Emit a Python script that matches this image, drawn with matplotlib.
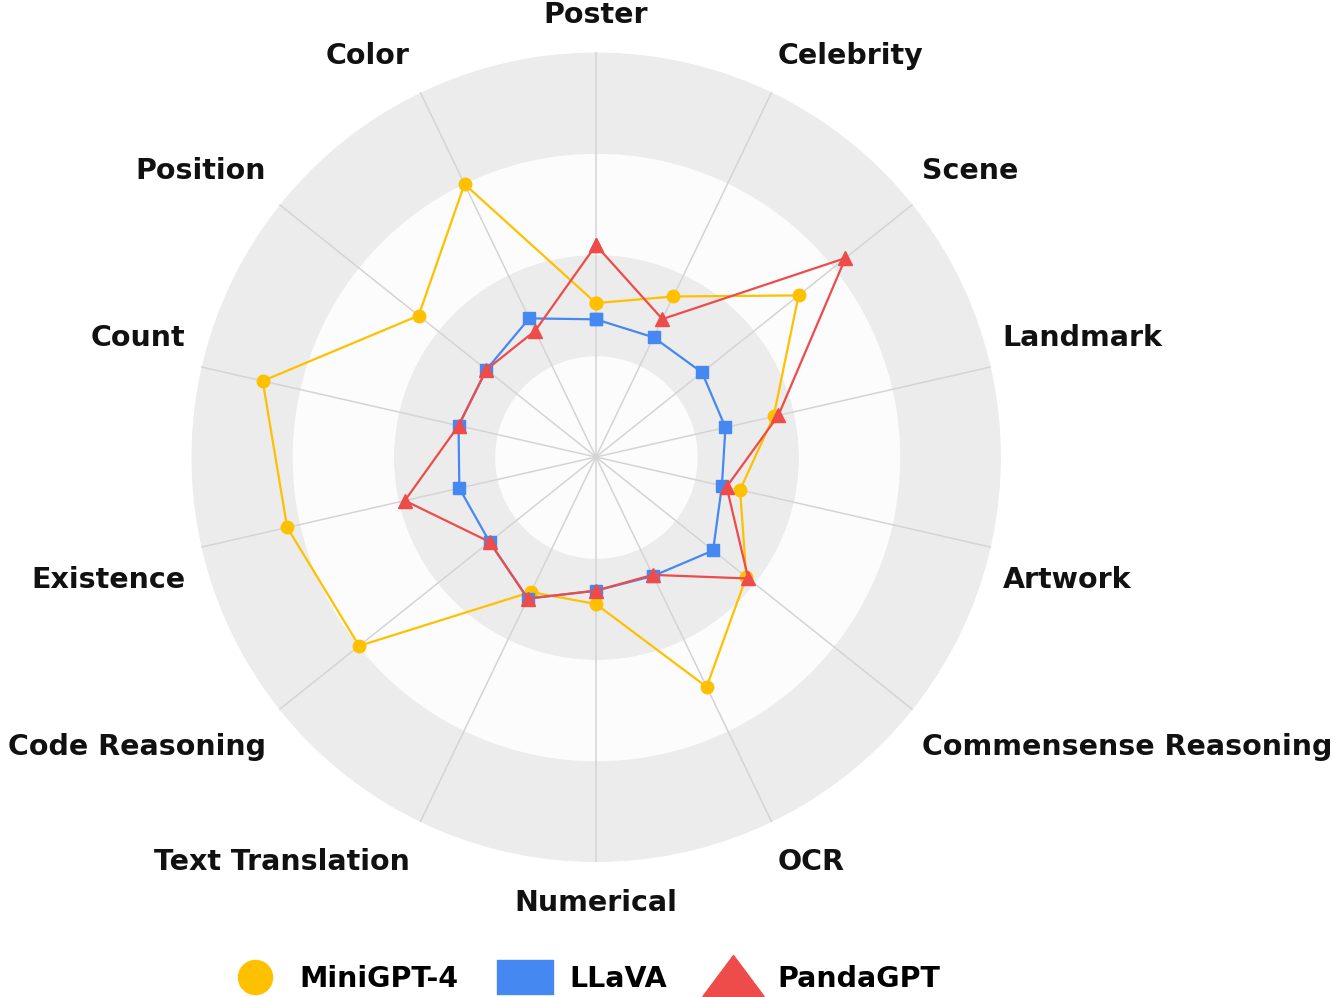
"""Radar chart comparing MiniGPT-4, LLaVA and PandaGPT across MME subtasks."""

import numpy as np
import matplotlib

matplotlib.use("Agg")
import matplotlib.pyplot as plt
import matplotlib.transforms as mtransforms
from matplotlib.lines import Line2D
from matplotlib.path import Path

categories = [
    "Poster", "Celebrity", "Scene", "Landmark", "Artwork",
    "Commensense Reasoning", "OCR", "Numerical", "Text Translation",
    "Code Reasoning", "Existence", "Count", "Position", "Color",
]
minigpt4 = [38, 44, 64, 45, 36.5, 47.5, 63, 36.3, 37, 74.8, 78.2, 84.4, 56, 74.8]
llava = [34, 32.8, 33.5, 32.8, 31.9, 37, 32.6, 33, 38.8, 33.6, 34.6, 34.8, 34.6, 38]
pandagpt = [52.3, 37.8, 78.8, 46.2, 33.1, 48.1, 32.3, 33, 38.8, 33.6, 48.4, 34.8, 34.6, 34.6]

# wide legend icons, like the original chart library draws them
RECT_ICON = Path([(-1, -0.58), (1, -0.58), (1, 0.58), (-1, 0.58), (-1, -0.58)],
                 [Path.MOVETO, Path.LINETO, Path.LINETO, Path.LINETO, Path.CLOSEPOLY])
TRI_ICON = Path([(-1, -0.62), (1, -0.62), (0, 0.72), (-1, -0.62)],
                [Path.MOVETO, Path.LINETO, Path.LINETO, Path.CLOSEPOLY])

series = [
    # name, values, colour, marker, marker size, legend icon, legend size
    ("MiniGPT-4", minigpt4, "#FFC000", "o", 9, "o", 24.5),
    ("LLaVA", llava, "#4688F1", "s", 8.5, RECT_ICON, 41),
    ("PandaGPT", pandagpt, "#EE4B4B", "^", 10, TRI_ICON, 44),
]

R_MAX = 100
BAND_EDGES = [0, 25, 50, 75, 100]
BAND_COLORS = ["#fcfcfc", "#ececec", "#fcfcfc", "#ececec"]
FONT_SIZE = 20.5

plt.rcParams["font.family"] = "DejaVu Sans"

fig = plt.figure(figsize=(13.38, 9.97), dpi=100)
ax = fig.add_axes([0.1427, 0.1354, 0.6054, 0.8124], projection="polar")
ax.set_theta_offset(np.pi / 2)
ax.set_theta_direction(-1)
ax.set_ylim(0, R_MAX)
ax.set_xticks([])
ax.set_yticks([])
ax.grid(False)
ax.spines["polar"].set_visible(False)
ax.set_facecolor("none")

# background bands
ring = np.linspace(0, 2 * np.pi, 721)
for lo, hi, col in zip(BAND_EDGES[:-1], BAND_EDGES[1:], BAND_COLORS):
    ax.fill_between(ring, lo, hi, color=col, linewidth=0, zorder=0)

n = len(categories)
angles = np.arange(n) * 2 * np.pi / n

# spokes
for a in angles:
    ax.plot([a, a], [0, R_MAX], color="#d4d4d4", linewidth=1.1, zorder=1)

# series
closed = np.append(angles, angles[0])
for name, vals, col, mk, ms, _, _ in series:
    v = np.append(vals, vals[0])
    ax.plot(closed, v, color=col, linewidth=1.6, marker=mk, markersize=ms,
            markeredgecolor=col, zorder=3, clip_on=False)

# category labels
label_r = R_MAX * 415 / 405
labels = []
for a, name in zip(angles, categories):
    sx = np.sin(a)   # screen x direction
    cy = np.cos(a)   # screen y direction (up)
    ha = "center" if abs(sx) < 0.01 else ("left" if sx > 0 else "right")
    va = "bottom" if cy > 0 else "top"
    dy = 13 if cy > 0 else -17
    dx = 0 if ha == "center" else (-6 if ha == "right" else 2)
    tr = mtransforms.offset_copy(ax.transData, fig=fig, x=dx, y=dy, units="dots")
    labels.append(ax.text(a, label_r, name, transform=tr, ha=ha, va=va,
                          fontsize=FONT_SIZE, fontweight="bold", color="#111111",
                          clip_on=False))

# keep labels inside the canvas
fig.canvas.draw()
renderer = fig.canvas.get_renderer()
fig_w = fig.bbox.width
for t in labels:
    bb = t.get_window_extent(renderer)
    shift = 0
    if bb.x1 > fig_w - 4:
        shift = (fig_w - 4) - bb.x1
    elif bb.x0 < 2:
        shift = 2 - bb.x0
    if shift:
        t.set_transform(t.get_transform() + mtransforms.Affine2D().translate(shift, 0))

handles = [
    Line2D([], [], linestyle="none", marker=icon, markersize=isz,
           markerfacecolor=col, markeredgecolor=col, label=name)
    for name, vals, col, mk, ms, icon, isz in series
]
fig.legend(handles=handles, loc="lower center", bbox_to_anchor=(0.436, -0.022),
           ncol=3, frameon=False, handlelength=2.0, handletextpad=0.55,
           columnspacing=1.35, prop={"weight": "bold", "size": FONT_SIZE})

fig.savefig("out.png", dpi=100, facecolor="white")
